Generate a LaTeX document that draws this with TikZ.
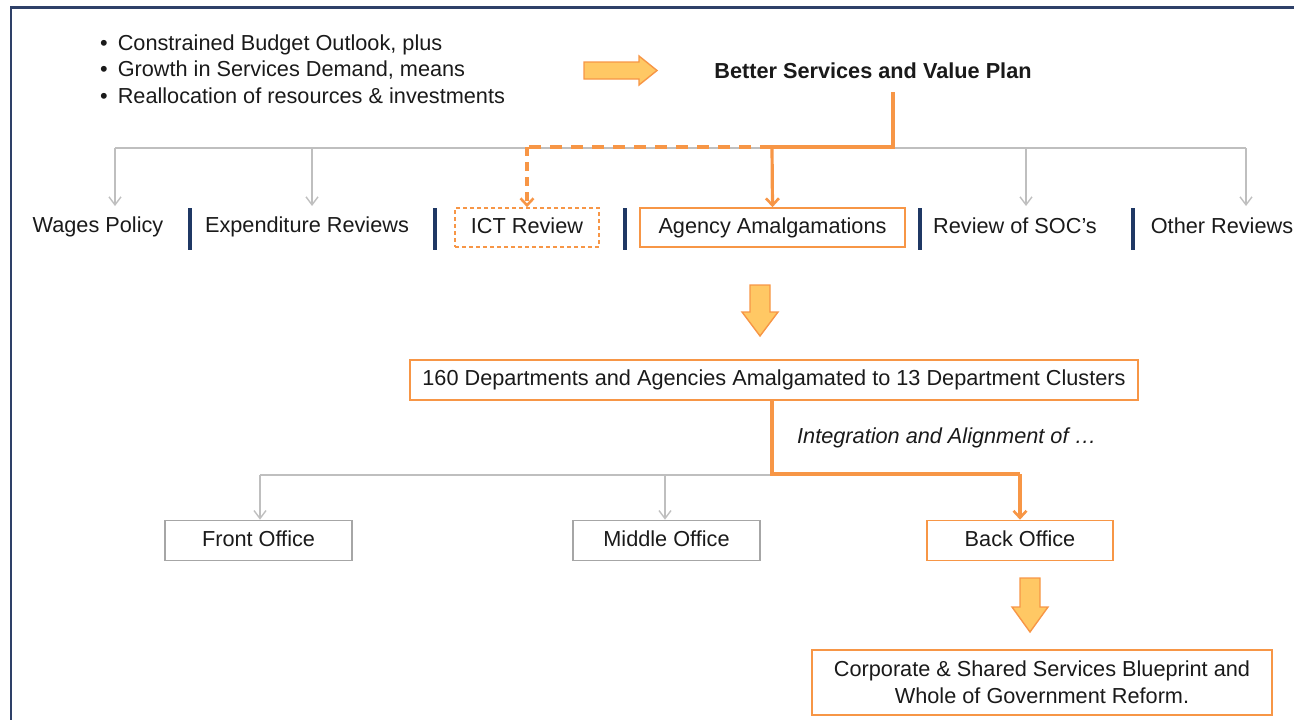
\documentclass[tikz,border=0pt]{standalone}
\usepackage{fontspec}
\setmainfont{Liberation Sans}
\usetikzlibrary{arrows.meta}
\definecolor{frame}{HTML}{2E4068}
\definecolor{navy}{HTML}{1F3864}
\definecolor{org}{HTML}{F79646}
\definecolor{orgfill}{HTML}{FFC864}
\definecolor{gry}{HTML}{BFBFBF}
\definecolor{boxgry}{HTML}{A6A6A6}
\definecolor{txt}{HTML}{1A1A1A}
\tikzset{
  every node/.style={font=\fontsize{21.7}{26}\selectfont, text=txt, inner sep=0pt},
  obox/.style={draw=org, line width=1.6pt, minimum height=39pt, text height=15.5pt, text depth=4.5pt},
  gbox/.style={draw=boxgry, line width=1.6pt, minimum height=40pt, minimum width=187pt, text height=15.5pt, text depth=4.5pt},
  plain/.style={minimum height=39pt, text height=15.5pt, text depth=4.5pt},
  garrow/.style={draw=gry, line width=1.6pt, -{Straight Barb[length=8pt,width=12pt,line width=1.4pt]}},
  oarrow/.style={draw=org, line width=3.2pt, -{Straight Barb[length=7pt,width=13pt,line width=2.6pt]}},
  oline/.style={draw=org, line width=3.2pt},
  bar/.style={draw=navy, line width=3.2pt},
  blockarrow/.style={draw=org, fill=orgfill, line width=1.4pt, line join=miter},
}
\begin{document}
\begin{tikzpicture}[x=1pt,y=-1pt]
\useasboundingbox (0,0) rectangle (1294,720);
% frame
\draw[frame, line width=2.6pt] (11,720) -- (11,7.5) -- (1294,7.5);

% bullets
\node[anchor=west] (b1) at (100,45) {•\hspace{10pt}Constrained Budget Outlook, plus};
\node[anchor=west] (b2) at (100,70.5) {•\hspace{10pt}Growth in Services Demand, means};
\node[anchor=west] (b3) at (100,96) {•\hspace{10pt}Reallocation of resources \& investments};

% right block arrow
\draw[blockarrow] (584,62) -- (639,62) -- (639,56) -- (657,70.5) -- (639,85) -- (639,79) -- (584,79) -- cycle;

\node[font=\bfseries\fontsize{21.7}{26}\selectfont] (plan) at (873,70.5) {Better Services and Value Plan};

% top row
\node[plain] (wages) at (98,227) {Wages Policy};
\node[plain] (exp) at (307,227) {Expenditure Reviews};
\node[obox, dashed, dash pattern=on 4pt off 3pt, minimum width=144pt] (ict) at (527,227.5) {ICT Review};
\node[obox, minimum width=265pt] (agency) at (772.5,227.5) {Agency Amalgamations};
\node[plain] (soc) at (1015,227.5) {Review of SOC’s};
\node[plain] (other) at (1222,227.5) {Other Reviews};

\foreach \x in {190,435,625,920,1133} \draw[bar] (\x,208) -- (\x,250);

% gray bus top
\coordinate (gL) at (115,148);
\coordinate (gR) at (1246,148);
\draw[gry, line width=1.6pt] (gL) -- (gR);
\foreach \x in {115,312,1026,1246}
  \draw[garrow] (\x,148) -- (\x,206);

% orange tree top
\coordinate (pdrop) at (893,92);
\coordinate (oj) at (772,147);
\coordinate (dj) at (527,147);
\draw[oline] (pdrop) |- (oj);
\draw[oarrow] (oj) -- (agency.north);
\draw[oline, dashed, dash pattern=on 12pt off 9pt] (oj) -- (dj);
\draw[oarrow, dashed, dash pattern=on 9pt off 6pt] (dj) -- (ict.north);

% down block arrow 1
\draw[blockarrow] (750,285) -- (770,285) -- (770,312) -- (778,312) -- (760,336) -- (742,312) -- (750,312) -- cycle;

\node[obox, minimum width=728pt, minimum height=40pt] (clusters) at (774,380) {160 Departments and Agencies Amalgamated to 13 Department Clusters};

\node[font=\itshape\fontsize{21.7}{26}\selectfont, anchor=west] (integ) at (797,438) {Integration and Alignment of …};

% bottom row
\node[gbox] (front) at (258.5,540.5) {Front Office};
\node[gbox] (middle) at (666.5,540.5) {Middle Office};
\node[obox, minimum width=186pt, minimum height=40pt] (back) at (1020,540.5) {Back Office};

\coordinate (bL) at (260,475);
\coordinate (bM) at (665,475);
\coordinate (bj) at (772,475);
\draw[gry, line width=1.6pt] (bL) -- (bj);
\draw[garrow] (bL) -- (front.north -| bL);
\draw[garrow] (bM) -- (middle.north -| bM);
\draw[oline] (clusters.south -| bj) -- (772,474) -- (1020,474);
\draw[oarrow] (1020,474) -- (back.north);

% down block arrow 2
\draw[blockarrow] (1020,578) -- (1040,578) -- (1040,607) -- (1048,607) -- (1030,632) -- (1012,607) -- (1020,607) -- cycle;

\node[obox, minimum width=460pt, minimum height=65pt, text height=, text depth=, align=center, font=\fontsize{21.7}{27}\selectfont] (blue) at (1042,682.5) {Corporate \& Shared Services Blueprint and\\Whole of Government Reform.};
\end{tikzpicture}
\end{document}
